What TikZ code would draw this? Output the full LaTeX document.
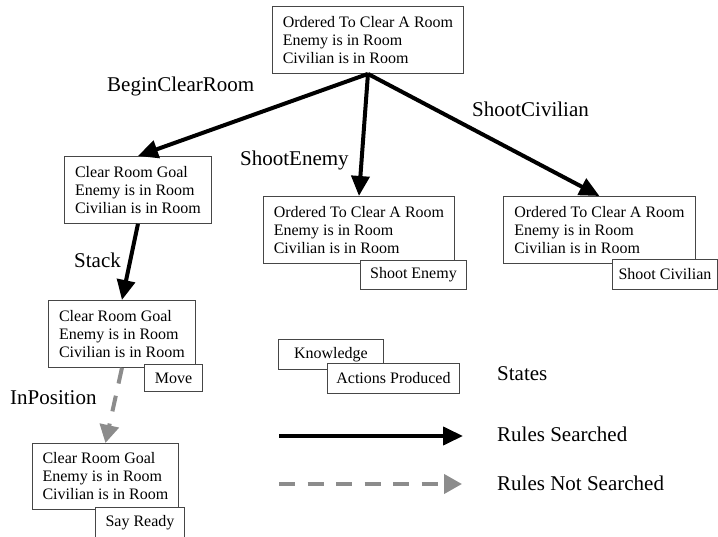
\documentclass[tikz,border=0pt]{standalone}
\usepackage{fontspec}
\setmainfont{Liberation Serif}
\usetikzlibrary{arrows.meta}
\definecolor{dashgray}{RGB}{140,140,140}
\definecolor{boxline}{RGB}{70,70,70}
\begin{document}
\begin{tikzpicture}[x=1pt,y=-1pt,
  statebox/.style={draw=boxline, line width=0.9pt, fill=white, anchor=north west,
    align=left, inner xsep=4pt, inner ysep=0pt, font=\fontsize{16}{18}\selectfont},
  actbox/.style={draw=boxline, line width=0.9pt, fill=white, anchor=north west,
    align=center, inner xsep=0pt, inner ysep=0pt, font=\fontsize{16}{18}\selectfont},
  rulelabel/.style={anchor=base west, inner sep=0pt, font=\fontsize{21}{24}\selectfont},
  searched/.style={draw=black, line width=4pt, -{Triangle[length=20pt,width=18pt]}},
  notsearched/.style={draw=dashgray, line width=4pt, dash pattern=on 16pt off 12.5pt,
    -{Triangle[length=18pt,width=19pt]}}
]
\useasboundingbox (0,0) rectangle (718,537);

% state boxes
\node[statebox, minimum width=191pt, minimum height=67pt] (top) at (272,6)
  {Ordered To Clear A Room\\Enemy is in Room\\Civilian is in Room};
\node[statebox, minimum width=147pt, minimum height=67pt] (goalA) at (64,156)
  {Clear Room Goal\\Enemy is in Room\\Civilian is in Room};
\node[statebox, minimum width=191pt, minimum height=67pt] (enemy) at (263,196)
  {Ordered To Clear A Room\\Enemy is in Room\\Civilian is in Room};
\node[statebox, minimum width=192pt, minimum height=67pt] (civ) at (503,196)
  {Ordered To Clear A Room\\Enemy is in Room\\Civilian is in Room};
\node[statebox, minimum width=147pt, minimum height=67pt] (goalB) at (48,300)
  {Clear Room Goal\\Enemy is in Room\\Civilian is in Room};
\node[statebox, minimum width=146pt, minimum height=66pt] (goalC) at (32,443)
  {Clear Room Goal\\Enemy is in Room\\Civilian is in Room};

% rule arrows
\draw[searched] (top.south) -- (goalA.north);
\draw[searched] (top.south) -- (enemy.north);
\draw[searched] (top.south) -- (civ.north);
\draw[searched] (goalA.south) -- (goalB.north);
\draw[notsearched] (goalB.south) -- (goalC.north);

% action boxes
\node[actbox, minimum width=106pt, minimum height=29pt] (actEnemy) at (360,260) {Shoot Enemy};
\node[actbox, minimum width=105pt, minimum height=30pt] (actCiv) at (612,259) {Shoot Civilian};
\node[actbox, minimum width=58pt, minimum height=27pt] (actMove) at (144,364) {Move};
\node[actbox, minimum width=89pt, minimum height=29.5pt] (actReady) at (95,507) {Say Ready};

% rule labels
\node[rulelabel] (lblBegin) at (107,92) {BeginClearRoom};
\node[rulelabel] (lblEnemy) at (240,166) {ShootEnemy};
\node[rulelabel] (lblCiv) at (472,117) {ShootCivilian};
\node[rulelabel] (lblStack) at (74,268) {Stack};
\node[rulelabel] (lblInPos) at (10,405) {InPosition};

% legend
\node[actbox, minimum width=105pt, minimum height=30pt] (legKnow) at (278,339) {Knowledge\vphantom{Ap}};
\node[actbox, minimum width=132pt, minimum height=30pt] (legAct) at (327,363) {Actions Produced};
\node[rulelabel] (legStates) at (497,381) {States};
\coordinate (ls1) at (279,436);
\coordinate (ls2) at (463,436);
\draw[searched] (ls1) -- (ls2);
\node[rulelabel] (legSearched) at (497,442) {Rules Searched};
\coordinate (ln1) at (279,484);
\coordinate (ln2) at (462,484);
\draw[notsearched] (ln1) -- (ln2);
\node[rulelabel] (legNot) at (497,490) {Rules Not Searched};
\end{tikzpicture}
\end{document}
